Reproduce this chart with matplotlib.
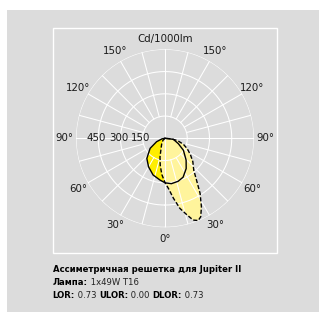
import numpy as np
import matplotlib
matplotlib.use("Agg")
import matplotlib.pyplot as plt
from matplotlib.patches import Rectangle

# ---- data ----
# solid curve (C0-C180), angle in degrees measured from nadir, positive to the right
solid_theta = [-90, -80, -68, -56, -42, -30, -18, -7, 0, 8, 17, 25, 35, 44, 57, 68, 83, 90]
solid_r = [0, 20, 61, 121, 183, 222, 260, 283, 300, 309, 303, 289, 249, 205, 148, 97, 57, 0]

# dashed curve (C90-C270)
dash_theta = [-90, -45, -30, -20, -15, -10, -5, 0, 4, 8, 12, 16, 19, 22, 24.5, 28, 32.5, 37, 42, 50, 57, 65, 72, 80, 85, 90]
dash_r = [0, 20, 45, 80, 130, 185, 245, 298, 340, 408, 483, 537, 583, 598, 581, 523, 440, 353, 290, 245, 205, 165, 130, 85, 40, 0]

ring_values = [150, 300, 450]
ring_labels = ["150", "300", "450"]
r_max = 600
angle_labels = ["0°", "30°", "60°", "90°", "120°", "150°"]
angle_values = [0, 30, 60, 90, 120, 150]

unit_label = "Cd/1000lm"
title_line = "Ассиметричная решетка для Jupiter II"
lamp_parts = [("Лампа:", True), (" 1x49W T16", False)]
lor_parts = [("LOR:", True), (" 0.73 ", False), ("ULOR:", True), (" 0.00 ", False),
             ("DLOR:", True), (" 0.73", False)]

# ---- style ----
BG = "#dcdcdc"
BRIGHT = "#ffee00"
PALE = "#fff49c"
W, H = 319, 312

fig = plt.figure(figsize=(W / 100, H / 100), dpi=100)
fig.patch.set_facecolor("white")
fig.add_artist(Rectangle((7 / W, 0), 1 - 7 / W, (H - 10) / H, transform=fig.transFigure,
                         facecolor=BG, edgecolor="none", zorder=-10))
fig.add_artist(Rectangle((52.5 / W, (H - 253) / H), (277.3 - 52.5) / W, (253 - 28) / H,
                         transform=fig.transFigure, facecolor="none", edgecolor="white",
                         linewidth=1.0, zorder=-5))

cx, cy, rad = 165, 138.3, 89
ax = fig.add_axes([(cx - rad) / W, (H - cy - rad) / H, 2 * rad / W, 2 * rad / H], projection="polar")
ax.set_theta_zero_location("S")
ax.set_theta_direction(1)
ax.set_ylim(0, r_max)
ax.patch.set_visible(False)
ax.grid(False)
ax.set_xticks([])
ax.set_yticks([])
ax.spines["polar"].set_visible(False)

st = np.deg2rad(solid_theta)
dt = np.deg2rad(dash_theta)
ax.fill(st, solid_r, color=BRIGHT, zorder=1, lw=0)
ax.fill(dt, dash_r, color=PALE, zorder=2, lw=0)

# grid
tt = np.linspace(0, 2 * np.pi, 400)
for rv in ring_values + [r_max]:
    ax.plot(tt, np.full_like(tt, rv), color="white", lw=0.75, zorder=3)
for a in range(0, 360, 15):
    r0 = 0 if a % 90 == 0 else ring_values[0]
    ax.plot([np.deg2rad(a)] * 2, [r0, r_max], color="white", lw=0.75, zorder=3)

ax.plot(st, solid_r, color="black", lw=1.0, zorder=4)
ax.plot(dt, dash_r, color="black", lw=1.0, ls=(0, (3, 1.5)), zorder=4)

# labels
lab_r = 677
for v, t in zip(angle_values, angle_labels):
    for s in ([1] if v == 0 else [1, -1]):
        ax.text(np.deg2rad(s * v), lab_r, t, ha="center", va="center", fontsize=7.4,
                color="#1a1a1a", clip_on=False, zorder=5)
for v, t in zip(ring_values, ring_labels):
    ax.text(np.deg2rad(-90), v + 14, t, ha="center", va="center", fontsize=7.4,
            color="#1a1a1a", zorder=5)
ax.text(np.deg2rad(180), 670, unit_label, ha="center", va="center", fontsize=7.4,
        color="#1a1a1a", clip_on=False, zorder=5)

# bottom text
fs = 6.1
x0 = 52.7 / W


def text_run(parts, ypix):
    prev = None
    for txt, bold in parts:
        kw = dict(fontsize=fs, fontweight="bold" if bold else "normal", va="center",
                  color="black" if bold else "#222222")
        if prev is None:
            prev = fig.text(x0, 1 - ypix / H, txt, **kw)
        else:
            a = plt.Annotation(txt, xy=(1, 0.5), xycoords=prev, ha="left", **kw)
            fig.add_artist(a)
            prev = a


text_run([(title_line, True)], 270)
text_run(lamp_parts, 282.5)
text_run(lor_parts, 295)

fig.savefig("out.png", dpi=100)
